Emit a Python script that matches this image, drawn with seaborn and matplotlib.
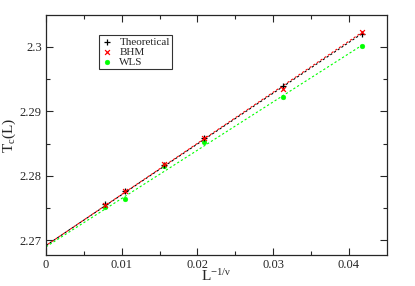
import numpy as np
import pandas as pd
import matplotlib
matplotlib.use('Agg')
import matplotlib.pyplot as plt
import seaborn as sns

# L^{-1/nu} with nu = 1, L = 128, 96, 64, 48, 32, 24
x_vals = [0.0078125, 0.0104167, 0.015625, 0.0208333, 0.03125, 0.0416667]
theoretical = [2.2756, 2.2776, 2.2817, 2.2859, 2.2940, 2.3020]
bhm = [2.2755, 2.2776, 2.2818, 2.2859, 2.2934, 2.3023]
wls = [2.2751, 2.2764, 2.2815, 2.2853, 2.2922, 2.3002]

# fitted lines (end points)
fit_x = [0.0, 0.0416667]
fit_theo = [2.2692, 2.3020]
fit_bhm = [2.2692, 2.3022]
fit_wls = [2.2690, 2.3002]

x_ticks = [0, 0.01, 0.02, 0.03, 0.04]
x_ticklabels = ['0', '0.01', '0.02', '0.03', '0.04']
y_ticks = [2.27, 2.28, 2.29, 2.30]
y_ticklabels = ['2.27', '2.28', '2.29', '2.3']

sns.set_style('ticks')
plt.rcParams['font.family'] = ['Liberation Serif', 'DejaVu Serif']
plt.rcParams['mathtext.fontset'] = 'custom'
plt.rcParams['mathtext.rm'] = 'Liberation Serif'
plt.rcParams['mathtext.it'] = 'Liberation Serif'

fig = plt.figure(figsize=(4.15, 2.86), dpi=100)
ax = fig.add_axes([0.111, 0.108, 0.821, 0.841])

green = '#00ff00'
sns.lineplot(x=fit_x, y=fit_theo, ax=ax, color='black', lw=0.8,
             linestyle=(0, (2, 2)))
sns.lineplot(x=fit_x, y=fit_bhm, ax=ax, color='red', lw=0.8,
             linestyle=(2, (2, 2)))
sns.lineplot(x=fit_x, y=fit_wls, ax=ax, color=green, lw=0.8,
             linestyle=(0, (2, 2)))

sns.scatterplot(x=x_vals, y=theoretical, ax=ax, marker='+', color='black',
                s=22, linewidth=0.9, label='Theoretical', zorder=5)
sns.scatterplot(x=x_vals, y=bhm, ax=ax, marker='x', color='red',
                s=12, linewidth=0.9, label='BHM', zorder=6)
sns.scatterplot(x=x_vals, y=wls, ax=ax, marker='o', color=green,
                s=12, edgecolor=green, label='WLS', zorder=4)

ax.set_xlim(0, 0.045)
ax.set_ylim(2.2677, 2.305)
ax.set_xticks(x_ticks)
ax.set_xticklabels(x_ticklabels)
ax.set_yticks(y_ticks)
ax.set_yticklabels(y_ticklabels)
ax.set_xticks(np.arange(0.005, 0.045, 0.01), minor=True)
ax.set_yticks([2.275, 2.285, 2.295], minor=True)
ax.tick_params(which='both', direction='in', top=True, right=True,
               labelsize=9, width=0.8)
ax.tick_params(which='major', length=5, pad=3)
ax.tick_params(which='minor', length=3)
for sp in ax.spines.values():
    sp.set_linewidth(0.9)

ax.set_xlabel(r'L$^{\mathregular{-1/\nu}}$', fontsize=11, labelpad=-2)
ax.set_ylabel(r'T$_{\mathregular{c}}$(L)', fontsize=11, labelpad=1)

leg = ax.legend(loc='upper left', bbox_to_anchor=(0.14, 0.94), fontsize=8,
                frameon=True, fancybox=False, edgecolor='black',
                borderpad=0.2, handletextpad=0.6, labelspacing=0.05,
                handlelength=1.0, markerscale=1.0)
leg.get_frame().set_linewidth(0.8)

fig.savefig('out.png', dpi=100)
